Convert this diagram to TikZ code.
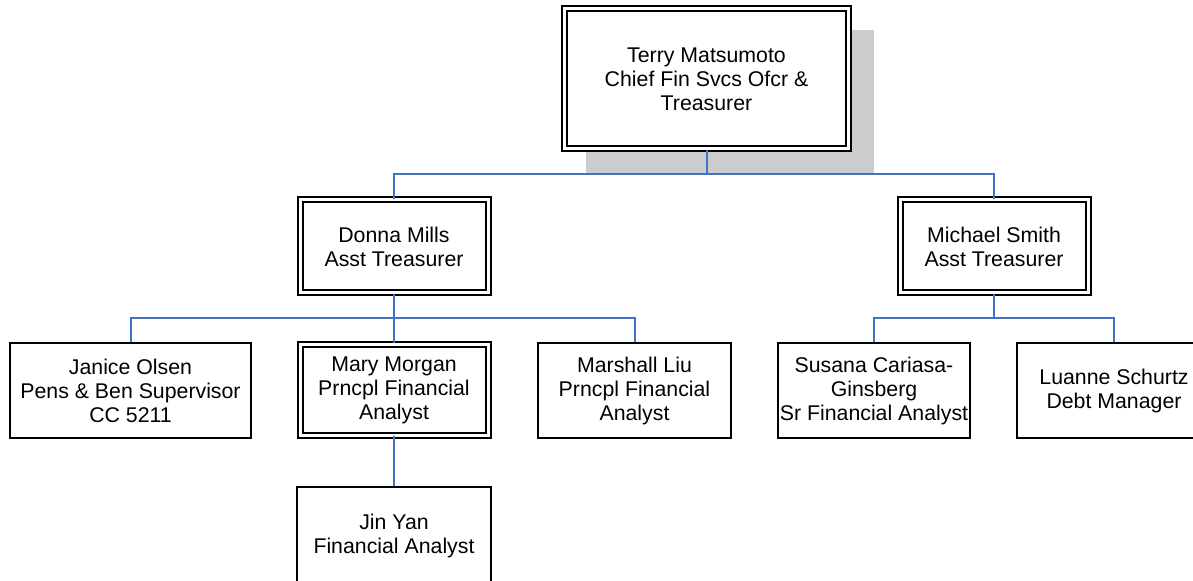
\documentclass[tikz,border=0pt]{standalone}
\usepackage{fontspec}
\setmainfont{Liberation Sans}
\usepackage{tikz}

\definecolor{linkblue}{RGB}{68,114,196}
\definecolor{shadowgray}{RGB}{204,204,204}

\tikzset{
  person/.style={draw, line width=1pt, fill=white, align=center, inner sep=0pt,
    font=\fontsize{10.65}{12}\selectfont},
  lead/.style={person, double, double distance=1.5pt},
  link/.style={draw=linkblue, line width=1pt}
}

\begin{document}
\begin{tikzpicture}[x=0.5pt, y=-0.5pt]
  \useasboundingbox (0, 0) rectangle (1193, 581);
  \clip (0, 0) rectangle (1193, 581);
  % shadow behind the top box
  \fill[shadowgray] (586, 30) rectangle (874, 174);
  \node[lead, minimum width=142pt, minimum height=70pt] (terry) at (706.5, 79)
    {Terry Matsumoto\\Chief Fin Svcs Ofcr \&\\Treasurer};
  % second level
  \node[lead, minimum width=94pt, minimum height=46.5pt] (donna) at (394, 246.5)
    {Donna Mills\\Asst Treasurer};
  \node[lead, minimum width=94pt, minimum height=46.5pt] (michael) at (994, 246.5)
    {Michael Smith\\Asst Treasurer};
  % third level
  \node[person, minimum width=120.5pt, minimum height=47.5pt] (janice) at (130.5, 390.5)
    {Janice Olsen\\Pens \& Ben Supervisor\\CC 5211};
  \node[lead, minimum width=94pt, minimum height=45.5pt] (mary) at (394, 390)
    {Mary Morgan\\Prncpl Financial\\Analyst};
  \node[person, minimum width=96.5pt, minimum height=47.5pt] (marshall) at (634.5, 390.5)
    {Marshall Liu\\Prncpl Financial\\Analyst};
  \node[person, minimum width=96pt, minimum height=47.5pt] (susana) at (874, 390.5)
    {Susana Cariasa-\\Ginsberg\\Sr Financial Analyst};
  \node[person, minimum width=97pt, minimum height=47.5pt] (luanne) at (1114, 390.5)
    {Luanne Schurtz\\Debt Manager};
  \node[person, minimum width=97pt, minimum height=48.5pt] (jin) at (394, 535.5)
    {Jin Yan\\Financial Analyst};
  % connectors
  \coordinate (bus1) at (0, 174);
  \coordinate (bus2) at (0, 318);
  \draw[link] (terry.south) -- (terry.south |- bus1);
  \draw[link] (donna.north) |- (michael.north |- bus1) -- (michael.north);
  \draw[link] (donna.south) -- (mary.north);
  \draw[link] (janice.north) |- (marshall.north |- bus2) -- (marshall.north);
  \draw[link] (mary.south) -- (jin.north);
  \draw[link] (michael.south) -- (michael.south |- bus2);
  \draw[link] (susana.north) |- (luanne.north |- bus2) -- (luanne.north);
\end{tikzpicture}
\end{document}
